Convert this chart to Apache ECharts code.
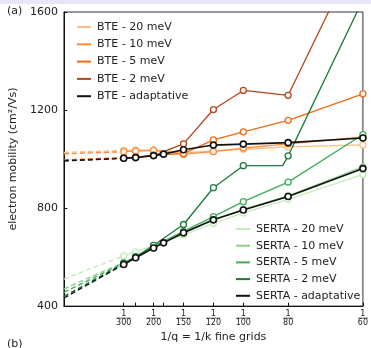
<!DOCTYPE html>
<html>
<head>
<meta charset="utf-8">
<script src="https://cdn.jsdelivr.net/npm/echarts@6/dist/echarts.min.js"></script>
<style>
html, body { margin: 0; padding: 0; background: #fff; }
#main { width: 371px; height: 348px; }
</style>
</head>
<body>
<div id="main"></div>
<script>
// fine grid sizes (x = 1/N)
var gridN = [300, 250, 200, 150, 120, 100, 80, 60];
var adaptN = [300, 250, 200, 180, 150, 120, 100, 80, 60];
var serta2N = [300, 250, 200, 150, 120, 100, 82, 80, 60];
var unmarkedN = [82];
var tickN = [300, 250, 200, 180, 150, 120, 100, 80, 60];
var labelN = [300, 200, 150, 120, 100, 80, 60];

// BTE mobilities
var bte20 = [1035, 1036, 1037, 1025, 1033, 1040, 1050, 1058];
var bte10 = [1030, 1032, 1035, 1020, 1030, 1045, 1062, 1090];
var bte5 = [1005, 1008, 1016, 1022, 1078, 1111, 1158, 1266];
var bte2 = [1003, 1006, 1014, 1062, 1202, 1280, 1260, 1890];
var bteAdapt = [1003, 1006, 1014, 1020, 1038, 1057, 1061, 1067, 1086];
// extrapolated to 1/N -> 0 (20, 10, 5, 2, adaptative)
var bteLimit = [1027, 1021, 997, 995, 992];

// SERTA mobilities
var serta20 = [605, 621, 648, 690, 738, 780, 835, 937];
var serta10 = [578, 603, 643, 697, 752, 795, 850, 968];
var serta5 = [575, 601, 645, 705, 765, 826, 906, 1100];
var serta2 = [573, 600, 648, 733, 883, 973, 973, 1013, 1650];
var sertaAdapt = [570, 597, 637, 658, 699, 752, 792, 847, 961];
var sertaLimit = [510, 470, 456, 440, 433];

var bteNames = ['BTE - 20 meV', 'BTE - 10 meV', 'BTE - 5 meV', 'BTE - 2 meV', 'BTE - adaptative'];
var sertaNames = ['SERTA - 20 meV', 'SERTA - 10 meV', 'SERTA - 5 meV', 'SERTA - 2 meV', 'SERTA - adaptative'];
var bteColors = ['#fdbe85', '#fd8d3c', '#f16913', '#b4451a', '#111111'];
var sertaColors = ['#c7e9c0', '#8bd087', '#41ab5d', '#1a7a3a', '#111111'];

var FONT = 'DejaVu Sans';
var myChart = echarts.init(document.getElementById('main'));

function makeSeries(name, ns, vals, limit, color, black) {
    var pts = ns.map(function(n, i) {
        var item = { value: [1 / n, vals[i]] };
        if (unmarkedN.indexOf(n) >= 0) item.symbol = 'none';
        return item;
    });
    var solid = {
        name: name,
        type: 'line',
        data: pts,
        symbol: 'circle',
        symbolSize: 6,
        z: black ? 5 : 3,
        itemStyle: { color: '#fff', borderColor: color, borderWidth: black ? 1.6 : 1.3 },
        lineStyle: { color: color, width: black ? 1.6 : 1.3 },
        emphasis: { disabled: true }
    };
    var dashed = {
        name: name,
        type: 'line',
        data: [[0, limit], [1 / ns[0], vals[0]]],
        symbol: 'none',
        z: black ? 4 : 2,
        lineStyle: { color: color, width: 1.4, type: [5, 3] },
        emphasis: { disabled: true }
    };
    return [dashed, solid];
}

var series = [];
var bteData = [bte20, bte10, bte5, bte2, bteAdapt];
var sertaData = [serta20, serta10, serta5, serta2, sertaAdapt];
[0, 1, 2, 3, 4].forEach(function(i) {
    var ns = i == 4 ? adaptN : gridN;
    series = series.concat(makeSeries(bteNames[i], ns, bteData[i], bteLimit[i], bteColors[i], i == 4));
});
[0, 1, 2, 3, 4].forEach(function(i) {
    var ns = i == 4 ? adaptN : (i == 3 ? serta2N : gridN);
    series = series.concat(makeSeries(sertaNames[i], ns, sertaData[i], sertaLimit[i], sertaColors[i], i == 4));
});

function legendData(names, colors) {
    return names.map(function(n, i) {
        return { name: n, icon: 'rect', itemStyle: { color: colors[i], borderWidth: 0 } };
    });
}

var option = {
    animation: false,
    textStyle: { fontFamily: FONT },
    grid: {
        left: 62, right: 6, top: 12, bottom: 38,
        show: true, borderColor: '#333', borderWidth: 1
    },
    legend: [{
        orient: 'vertical',
        left: 72, top: 15,
        itemWidth: 14, itemHeight: 2,
        itemGap: 3.3,
        selectedMode: false,
        data: legendData(bteNames, bteColors),
        textStyle: { fontFamily: FONT, fontSize: 11, color: '#222', lineHeight: 14, padding: [0, 0, 0, 1] }
    }, {
        orient: 'vertical',
        left: 231, top: 217,
        itemWidth: 14, itemHeight: 2,
        itemGap: 2.7,
        selectedMode: false,
        data: legendData(sertaNames, sertaColors),
        textStyle: { fontFamily: FONT, fontSize: 11, color: '#222', lineHeight: 14, padding: [0, 0, 0, 1] }
    }],
    xAxis: {
        type: 'value',
        min: 0,
        max: 1 / 60,
        name: '1/q = 1/k fine grids',
        nameLocation: 'middle',
        nameGap: 17,
        nameTextStyle: { fontFamily: FONT, fontSize: 11, color: '#222' },
        axisLine: { lineStyle: { color: '#111', width: 1 } },
        axisTick: {
            inside: true, length: 3.5,
            customValues: tickN.map(function(n) { return 1 / n; }),
            lineStyle: { color: '#111' }
        },
        axisLabel: {
            margin: 4,
            customValues: labelN.map(function(n) { return 1 / n; }),
            formatter: function(v) {
                var n = Math.round(1 / v);
                var bar = n >= 100 ? 'bar3' : 'bar2';
                return '{n|1}\n{' + bar + '| }\n{d|' + n + '}';
            },
            rich: {
                n: { fontSize: 8, lineHeight: 7, color: '#222', fontFamily: FONT, align: 'center' },
                d: { fontSize: 8, lineHeight: 8, color: '#222', fontFamily: FONT, align: 'center' },
                bar3: { width: 14, height: 0.8, lineHeight: 2, fontSize: 1, backgroundColor: '#333', align: 'center' },
                bar2: { width: 10, height: 0.8, lineHeight: 2, fontSize: 1, backgroundColor: '#333', align: 'center' }
            }
        },
        splitLine: { show: false }
    },
    yAxis: {
        type: 'value',
        min: 400,
        max: 1600,
        interval: 400,
        name: 'electron mobility (cm\u00b2/Vs)',
        nameLocation: 'middle',
        nameGap: 38,
        nameTextStyle: { fontFamily: FONT, fontSize: 11, color: '#222' },
        axisLine: { show: true, lineStyle: { color: '#111', width: 1 } },
        axisTick: { show: true, inside: true, length: 3.5, lineStyle: { color: '#111' } },
        axisLabel: {
            margin: 6, fontSize: 11, color: '#222', fontFamily: FONT,
            formatter: function(v) { return String(v); }
        },
        splitLine: { show: false }
    },
    graphic: [
        { type: 'rect', shape: { x: 0, y: 0, width: 371, height: 4 }, style: { fill: '#e6e6f8' } },
        { type: 'text', left: 7, top: 6, style: { text: '(a)', font: '11px DejaVu Sans', fill: '#222' } },
        { type: 'text', left: 7, top: 339, style: { text: '(b)', font: '11px DejaVu Sans', fill: '#222' } }
    ],
    series: series
};
myChart.setOption(option);
</script>
</body>
</html>
